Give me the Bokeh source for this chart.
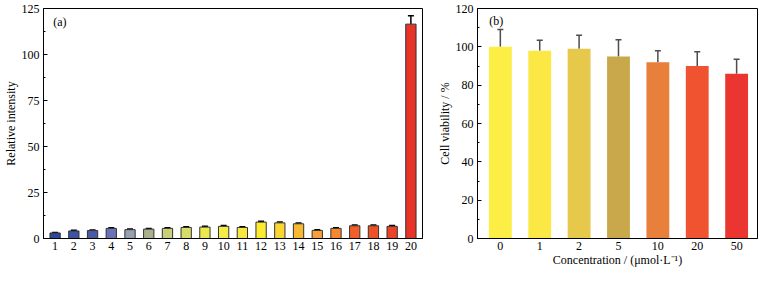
from bokeh.plotting import figure
from bokeh.models import ColumnDataSource, Whisker, TeeHead, Label, FixedTicker, Range1d
from bokeh.layouts import row
from bokeh.embed import file_html
from bokeh.resources import INLINE

# ---- panel (a) data ----
samples = [str(i) for i in range(1, 21)]
intensity = [3.0, 4.1, 4.3, 5.5, 4.8, 5.1, 5.5, 6.0, 6.2, 6.6, 6.0, 8.9, 8.5, 8.0, 4.4, 5.5, 6.9, 6.9, 6.6, 116.5]
intensity_err = [0.3, 0.4, 0.3, 0.4, 0.4, 0.4, 0.4, 0.4, 0.4, 0.4, 0.4, 0.5, 0.4, 0.4, 0.3, 0.4, 0.4, 0.4, 0.4, 4.5]
colors_a = ["#2a4b9a", "#3a55a5", "#4a5aa8", "#6a72b8", "#98a0b0", "#a8b08c", "#c8d078", "#d8dc68",
            "#ece850", "#f4ec48", "#f6e840", "#fcec30", "#fcd630", "#f8b830", "#f8a038", "#f48830",
            "#f06028", "#ee5028", "#ec4228", "#e83428"]

# ---- panel (b) data ----
conc = ["0", "1", "2", "5", "10", "20", "50"]
viability = [100, 98, 99, 95, 92, 90, 86]
viability_err = [9, 5.5, 7, 8.7, 6, 7.5, 7.5]
colors_b = ["#fcee45", "#fbe845", "#e6c84b", "#c8a84b", "#e87f3a", "#ef5330", "#eb3531"]

FONT = "Liberation Serif"


def style(p, ticks):
    p.outline_line_color = "black"
    p.outline_line_width = 1
    p.xgrid.visible = False
    p.ygrid.visible = False
    for ax in (p.xaxis[0], p.yaxis[0]):
        ax.axis_line_color = "black"
        ax.major_label_text_font = FONT
        ax.major_label_text_font_size = "12px"
        ax.major_label_text_color = "black"
        ax.axis_label_text_font = FONT
        ax.axis_label_text_font_size = "12px"
        ax.axis_label_text_font_style = "normal"
        ax.axis_label_text_color = "black"
        ax.axis_label_standoff = 1
        ax.major_label_standoff = 4
    xa = p.xaxis[0]
    xa.major_tick_in = 0
    xa.major_tick_out = 0
    xa.minor_tick_in = 0
    xa.minor_tick_out = 0
    xa.major_label_standoff = 3
    xa.axis_label_standoff = 0
    xa.ticker = FixedTicker(ticks=ticks)
    ya = p.yaxis[0]
    ya.major_tick_in = 4
    ya.major_tick_out = 0
    ya.minor_tick_in = 2
    ya.minor_tick_out = 0
    ya.major_tick_line_color = "black"
    ya.minor_tick_line_color = "black"


# ---------- panel (a) ----------
xa_pos = list(range(1, len(samples) + 1))
src_a = ColumnDataSource(dict(
    x=xa_pos, top=intensity, color=colors_a,
    upper=[v + e for v, e in zip(intensity, intensity_err)]))

pa = figure(width=431, height=269, output_backend="svg", toolbar_location=None,
            x_range=Range1d(0.38, 20.62), y_range=Range1d(0, 125),
            min_border_left=0, min_border_right=9, min_border_top=8, min_border_bottom=31)
pa.vbar(x="x", top="top", width=0.55, source=src_a, fill_color="color",
        line_color="#333333", line_width=1)
pa.add_layout(Whisker(base="x", lower="top", upper="upper", source=src_a,
                      line_color="black", line_width=1.5,
                      upper_head=TeeHead(size=6, line_color="black", line_width=1.5),
                      lower_head=None))
style(pa, xa_pos)
pa.xaxis[0].major_label_overrides = {p: s for p, s in zip(xa_pos, samples)}
pa.yaxis[0].ticker = FixedTicker(ticks=[0, 25, 50, 75, 100, 125],
                                 minor_ticks=[12.5, 37.5, 62.5, 87.5, 112.5])
pa.yaxis[0].axis_label = "Relative intensity"
pa.add_layout(Label(x=0.9, y=117.5, text="(a)", text_font=FONT, text_font_size="12px",
                    text_baseline="middle", text_color="black"))

# ---------- panel (b) ----------
xb_pos = list(range(len(conc)))
src_b = ColumnDataSource(dict(
    x=xb_pos, top=viability, color=colors_b,
    upper=[v + e for v, e in zip(viability, viability_err)]))

pb = figure(width=328, height=269, output_backend="svg", toolbar_location=None,
            x_range=Range1d(-0.58, 6.53), y_range=Range1d(0, 120),
            min_border_left=46, min_border_right=2, min_border_top=8, min_border_bottom=31)
pb.vbar(x="x", top="top", width=0.58, source=src_b, fill_color="color", line_color=None)
pb.add_layout(Whisker(base="x", lower="top", upper="upper", source=src_b,
                      line_color="#4d4d4d", line_width=1.5,
                      upper_head=TeeHead(size=6, line_color="#4d4d4d", line_width=1.5),
                      lower_head=None))
style(pb, xb_pos)
pb.xaxis[0].major_label_overrides = {p: s for p, s in zip(xb_pos, conc)}
pb.yaxis[0].ticker = FixedTicker(ticks=[0, 20, 40, 60, 80, 100, 120],
                                 minor_ticks=[10, 30, 50, 70, 90, 110])
pb.yaxis[0].axis_label = "Cell viability / %"
pb.xaxis[0].axis_label = "Concentration / (\u03bcmol\u00b7L\u207b\u00b9)"
pb.add_layout(Label(x=-0.28, y=113.4, text="(b)", text_font=FONT, text_font_size="12px",
                    text_baseline="middle", text_color="black"))

layout = row(pa, pb, spacing=0)
open("out.html", "w").write(file_html(layout, INLINE))
